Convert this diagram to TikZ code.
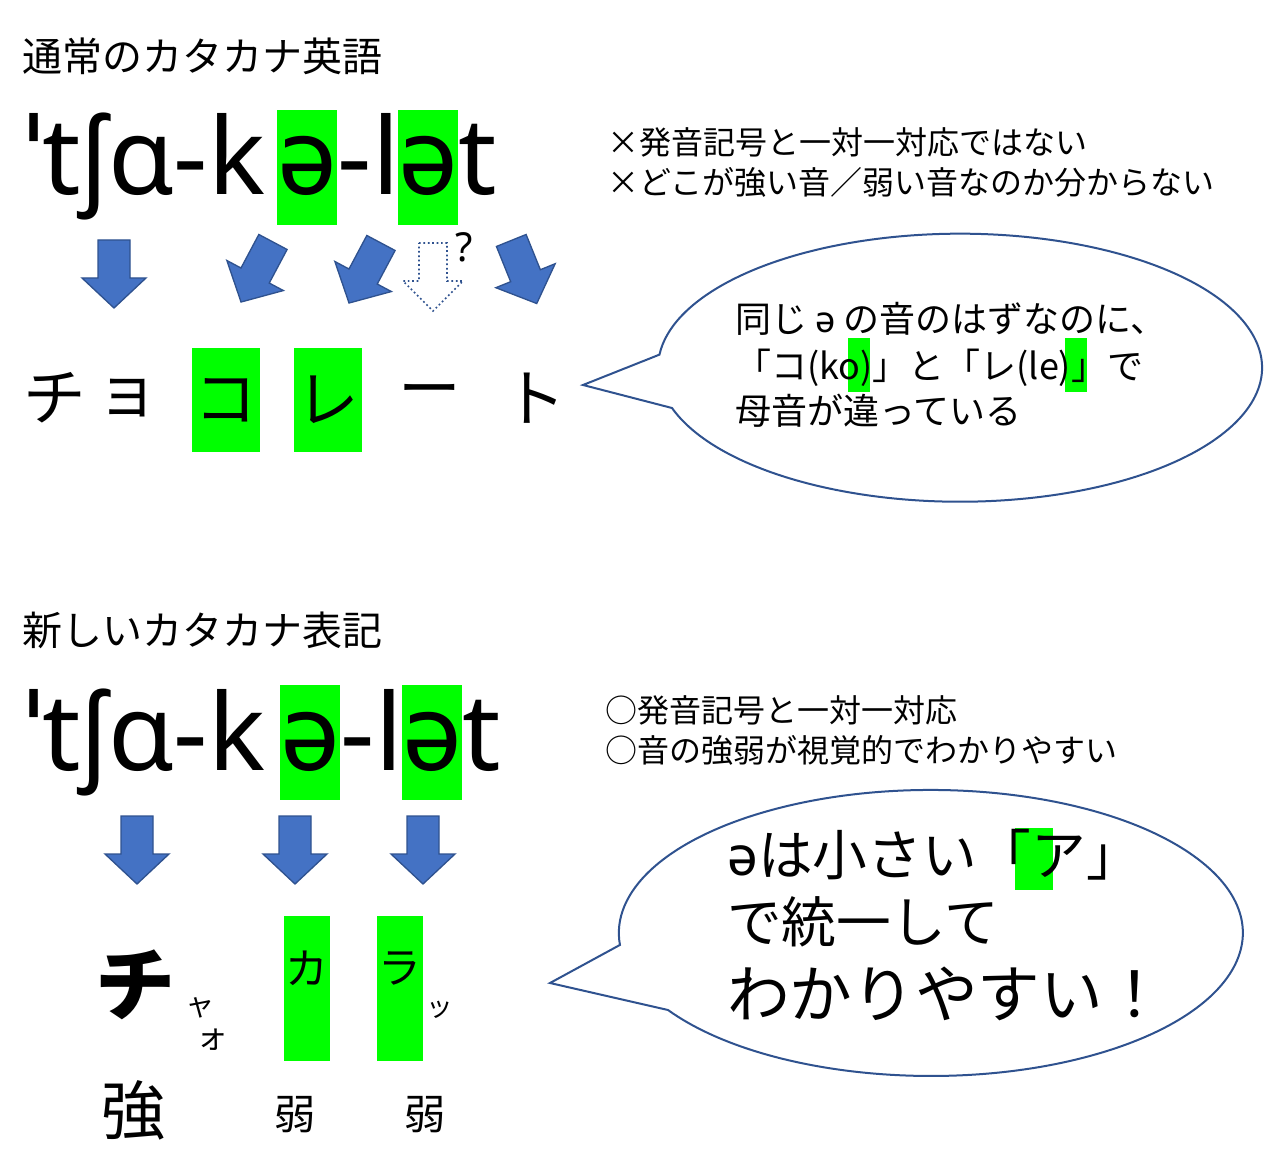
\documentclass[tikz,border=0pt]{standalone}
\usepackage{fontspec}
\setmainfont{Noto Sans CJK JP}
\newfontfamily\ipa{Noto Sans}
\definecolor{abl}{HTML}{4472C4}
\definecolor{abd}{HTML}{2F528F}
\definecolor{hg}{HTML}{00FF00}
\newcommand\fs[1]{\fontsize{#1}{#1}\selectfont}
\tikzset{
  barrow/.pic={\draw[abd,fill=abl,line width=1pt] (-16,-34)--(16,-34)--(16,4)--(32,4)--(0,34)--(-32,4)--(-16,4)--cycle;},
  darrow/.pic={\draw[abd,fill=white,line width=1.3pt,dotted] (-14,-34)--(14,-34)--(14,4)--(30,4)--(0,34)--(-30,4)--(-14,4)--cycle;},
  txt/.style={inner sep=0,anchor=base west},
  ipatxt/.style={inner sep=0,anchor=base west,font=\ipa\fs{80}},
  ebox/.style={inner sep=0,anchor=base west,font=\ipa\fs{80},fill=hg,minimum width=42.75pt,text height=63.75pt,text depth=22.5pt},
  hbox/.style={fill=hg,draw=none},
  callout/.style={abd,fill=white,line width=1.5pt},
}
\begin{document}
\begin{tikzpicture}[x=0.75pt,y=-0.75pt]
\useasboundingbox (0,0) rectangle (1280,1151);
% ---------- top ----------
\node[txt,font=\fs{30}] (t1) at (22,72) {通常のカタカナ英語};
\node[ipatxt] (a1) at (25,195) {ˈtʃɑ-k};
\node[ebox] (a2) at (277,195) {ə};
\node[ipatxt] (a3) at (a2.base east) {-l};
\node[ebox] (a4) at (398,195) {ə};
\node[ipatxt] (a5) at (a4.base east) {t};
\node[txt,font=\fs{24}] (n1) at (607,155) {×発音記号と一対一対応ではない};
\node[txt,font=\fs{24}] (n2) at (607,195) {×どこが強い音／弱い音なのか分からない};
\pic at (114,274) {barrow};
\pic[rotate=-28] at (257,272) {barrow};
\pic[rotate=-28] at (365,273) {barrow};
\pic at (433,277) {darrow};
\node[txt,font=\ipa\fs{30}] (q) at (455,262) {?};
\pic[rotate=22] at (524,272) {barrow};
\node[hbox,minimum width=51pt,minimum height=78pt] (g1) at (226,400) {};
\node[hbox,minimum width=51pt,minimum height=78pt] (g2) at (328,400) {};
\node[font=\fs{47}] (k1) at (55,398) {チ};
\node[font=\fs{47}] (k2) at (128,398) {ョ};
\node[font=\fs{47}] (k3) at (g1) {コ};
\node[font=\fs{47}] (k4) at (g2) {レ};
\node[font=\fs{47}] (k5) at (430,398) {ー};
\node[font=\fs{47}] (k6) at (535,398) {ト};
\coordinate (tip1) at (583,385);
\draw[callout] (tip1) -- (672,408) arc[start angle=197.5,end angle=534.4,x radius=226.5pt,y radius=100.5pt] -- cycle;
\fill[hg] (848,338) rectangle (870,392);
\fill[hg] (1065,338) rectangle (1087,392);
\node[txt,font=\fs{27}] (c1) at (735,333) {同じ {\ipa ə} の音のはずなのに、};
\node[txt,font=\fs{27}] (c2) at (735,380) {「コ(ko)」と「レ(le)」で};
\node[txt,font=\fs{27}] (c3) at (735,425) {母音が違っている};
% ---------- bottom ----------
\node[txt,font=\fs{30}] (t2) at (22,645) {新しいカタカナ表記};
\node[ipatxt] (b1) at (25,770) {ˈtʃɑ-k};
\node[ebox] (b2) at (280,770) {ə};
\node[ipatxt] (b3) at (b2.base east) {-l};
\node[ebox] (b4) at (402,770) {ə};
\node[ipatxt] (b5) at (b4.base east) {t};
\node[txt,font=\fs{24}] (m1) at (605,722) {○発音記号と一対一対応};
\node[txt,font=\fs{24}] (m2) at (605,762) {○音の強弱が視覚的でわかりやすい};
\pic at (137,850) {barrow};
\pic at (295,850) {barrow};
\pic at (423,850) {barrow};
\node[hbox,minimum width=34.5pt,minimum height=108.75pt] (h1) at (307,988) {};
\node[hbox,minimum width=34.5pt,minimum height=108.75pt] (h2) at (400,988) {};
\node[font=\bfseries\fs{60}] (s1) at (135,985) {チ};
\node[font=\fs{22}] (s2) at (200,1008) {ャ};
\node[font=\fs{24}] (s3) at (212,1040) {ォ};
\node[font=\fs{32}] (s4) at (307,968) {カ};
\node[font=\fs{32}] (s5) at (400,968) {ラ};
\node[font=\fs{20}] (s6) at (440,1010) {ッ};
\node[font=\fs{48}] (w1) at (133,1110) {強};
\node[font=\fs{31}] (w2) at (295,1115) {弱};
\node[font=\fs{31}] (w3) at (425,1115) {弱};
\coordinate (tip2) at (550,983);
\draw[callout] (tip2) -- (668,1010) arc[start angle=212.6,end angle=544.8,x radius=234pt,y radius=107.25pt] -- cycle;
\fill[hg] (1015,828) rectangle (1053,890);
\node[txt,font=\fs{41}] (d1) at (727,875) {{\ipa ə}は小さい「ア」};
\node[txt,font=\fs{41}] (d2) at (727,942) {で統一して};
\node[txt,font=\fs{47}] (d3) at (727,1017) {わかりやすい！};
\end{tikzpicture}
\end{document}
